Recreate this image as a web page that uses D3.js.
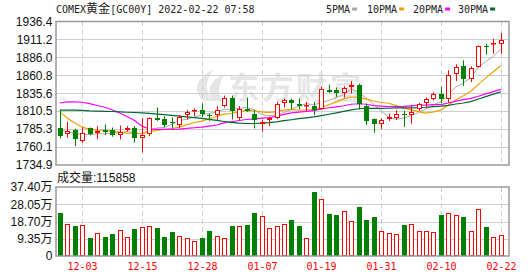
<!DOCTYPE html>
<html>
<head>
<meta charset="utf-8">
<script src="https://cdn.jsdelivr.net/npm/d3@7"></script>
<style>
body { margin: 0; background: #fff; }
svg { display: block; }
</style>
</head>
<body>
<script>
// trading days shown (MM-DD)
var dates = ["11-30","12-01","12-02","12-03","12-06","12-07","12-08","12-09","12-10","12-13",
  "12-14","12-15","12-16","12-17","12-20","12-21","12-22","12-23","12-27","12-28",
  "12-29","12-30","12-31","01-03","01-04","01-05","01-06","01-07","01-10","01-11",
  "01-12","01-13","01-14","01-17","01-18","01-19","01-20","01-21","01-24","01-25",
  "01-26","01-27","01-28","01-31","02-01","02-02","02-03","02-04","02-07","02-08",
  "02-09","02-10","02-11","02-14","02-15","02-16","02-17","02-18","02-21","02-22"];

var open = [1786.2,1777.8,1783.9,1769.0,1786.2,1780.1,1783.4,1784.3,1776.9,1783.9,
  1787.1,1772.2,1777.8,1801.1,1798.8,1795.5,1790.4,1804.9,1810.9,1811.9,
  1805.8,1804.9,1817.5,1829.6,1801.1,1814.2,1807.2,1791.8,1797.9,1801.1,
  1822.6,1825.9,1821.2,1817.5,1817.5,1814.2,1839.9,1840.8,1836.6,1844.5,
  1847.8,1817.5,1799.3,1792.3,1799.7,1801.1,1807.2,1804.9,1814.2,1822.6,
  1827.3,1834.3,1828.2,1863.2,1873.4,1855.2,1872.5,1901.9,1904.2,1905.2];
var high = [1811.9,1795.5,1785.7,1787.6,1787.6,1789.5,1791.8,1787.6,1790.4,1789.5,
  1789.5,1800.2,1801.6,1815.6,1803.5,1801.6,1804.9,1811.9,1814.2,1821.2,
  1807.2,1817.5,1832.4,1832.4,1817.5,1829.6,1811.9,1797.9,1802.5,1823.5,
  1828.2,1828.2,1828.2,1823.5,1823.5,1844.5,1847.8,1843.6,1845.5,1852.9,
  1849.2,1821.2,1800.2,1800.2,1807.2,1811.9,1810.9,1818.9,1822.1,1829.6,
  1836.6,1844.5,1867.8,1876.2,1881.8,1873.4,1902.8,1905.2,1912.1,1920.1];
var low = [1772.2,1773.1,1761.5,1766.2,1776.4,1771.3,1776.9,1774.6,1770.8,1782.0,
  1766.2,1752.6,1775.5,1796.9,1787.6,1786.2,1786.2,1798.8,1803.5,1802.5,
  1796.9,1797.9,1815.6,1798.8,1797.9,1809.5,1786.2,1781.6,1789.5,1799.3,
  1815.6,1812.8,1812.8,1810.9,1804.9,1812.8,1836.1,1830.5,1829.6,1835.2,
  1812.8,1790.9,1780.2,1785.3,1796.9,1797.9,1788.5,1793.2,1810.9,1815.6,
  1825.9,1822.1,1822.1,1852.9,1845.9,1851.5,1871.6,1889.8,1891.2,1891.2];
var close = [1776.0,1782.5,1770.8,1779.2,1778.8,1783.0,1781.6,1776.4,1781.6,1787.1,
  1772.2,1776.9,1800.2,1798.3,1790.9,1794.6,1802.5,1810.0,1812.8,1806.3,
  1804.9,1812.8,1829.6,1811.0,1814.2,1811.0,1797.9,1795.5,1801.1,1821.2,
  1825.9,1822.1,1817.5,1818.9,1812.8,1841.3,1838.0,1836.1,1843.1,1847.8,
  1820.3,1796.9,1792.3,1797.9,1801.6,1807.2,1804.9,1809.5,1820.3,1827.3,
  1834.3,1827.3,1860.8,1872.5,1856.2,1871.6,1901.4,1900.5,1906.1,1910.7];

// volume in 万 (10k contracts)
var volume = [23.3,17.3,16.3,16.8,9.8,12.3,10.3,11.9,13.9,10.1,
  14.6,15.5,16.3,15.2,10.3,13.0,10.7,9.6,8.1,9.8,
  13.6,10.7,9.6,16.3,16.3,17.0,23.3,21.7,15.0,16.1,
  17.2,19.3,16.3,9.6,34.7,30.7,22.6,22.2,24.2,18.8,
  26.6,19.5,21.1,13.4,12.3,11.7,16.8,17.2,13.4,13.4,
  12.8,22.2,23.1,22.2,21.1,13.4,25.3,15.5,10.1,11.5858];

// moving averages as drawn
var ma5 = [1784.0,1782.0,1779.0,1778.0,1777.5,1778.9,1778.7,1779.8,1780.3,1781.9,
  1779.8,1778.8,1783.6,1786.9,1787.7,1792.2,1797.3,1799.3,1802.2,1805.2,
  1807.3,1809.4,1813.3,1812.9,1814.5,1815.7,1812.7,1805.9,1803.9,1805.3,
  1808.3,1813.2,1817.6,1821.1,1819.4,1822.5,1825.7,1829.4,1834.3,1841.3,
  1837.1,1828.8,1820.1,1811.0,1801.8,1799.2,1800.8,1804.2,1808.7,1813.8,
  1819.3,1823.7,1834.0,1844.4,1850.2,1857.7,1872.5,1880.4,1887.2,1898.1];
var ma10 = [1809.5,1801.0,1794.0,1788.0,1785.0,1784.0,1783.5,1782.0,1781.0,1779.7,
  1779.4,1778.8,1781.7,1783.6,1784.8,1786.0,1788.1,1791.5,1794.6,1796.5,
  1799.8,1803.4,1806.3,1807.6,1809.9,1811.5,1811.1,1809.6,1808.4,1809.9,
  1812.0,1813.0,1811.8,1812.5,1812.4,1815.4,1819.5,1823.5,1827.7,1830.4,
  1829.8,1827.3,1824.8,1822.7,1821.6,1818.2,1814.8,1812.2,1809.9,1807.8,
  1809.3,1812.3,1819.1,1826.6,1832.0,1838.5,1848.1,1857.2,1865.8,1874.2];
var ma20 = [1822.0,1823.5,1823.5,1823.0,1821.0,1818.5,1816.0,1812.5,1808.0,1803.0,
  1797.5,1789.5,1785.5,1784.8,1784.8,1784.8,1785.2,1786.2,1787.2,1788.1,
  1789.6,1791.1,1794.0,1795.6,1797.4,1798.8,1799.6,1800.6,1801.5,1803.2,
  1805.9,1808.2,1809.1,1810.1,1811.2,1813.5,1815.3,1816.6,1818.1,1820.2,
  1820.9,1820.2,1818.3,1817.6,1817.0,1816.8,1817.2,1817.9,1818.8,1819.1,
  1819.6,1819.8,1822.0,1824.7,1826.8,1828.4,1831.5,1834.7,1837.9,1841.0];
var ma30 = [1811.9,1811.9,1811.9,1811.5,1810.8,1810.5,1810.3,1810.0,1809.5,1809.0,
  1808.6,1808.2,1807.3,1806.4,1805.5,1804.6,1803.6,1802.6,1801.5,1800.3,
  1798.9,1797.5,1796.0,1794.7,1793.6,1793.2,1793.2,1793.6,1794.3,1795.4,
  1797.1,1798.4,1799.9,1801.2,1802.4,1804.3,1806.2,1808.2,1810.2,1812.3,
  1813.9,1814.6,1814.3,1814.3,1814.6,1815.0,1815.1,1815.1,1815.3,1816.0,
  1817.0,1817.5,1818.6,1820.6,1822.0,1824.0,1827.5,1831.0,1834.5,1837.5];

var maNames = ["5PMA", "10PMA", "20PMA", "30PMA"];
var priceTicks = [1734.9, 1760.1, 1785.3, 1810.5, 1835.6, 1860.8, 1886.0, 1911.2, 1936.4];
var volTicks = [0, 9.35, 18.70, 28.05, 37.40];
var xLabels = ["12-03", "12-15", "12-28", "01-07", "01-19", "01-31", "02-10", "02-22"];
var titleParts = ["COMEX", "黄金", "[GC00Y] 2022-02-22 07:58"];
var lastVolume = "115858";

var W = 530, H = 276;
var left = 56, right = 509;
var RED = "#ff0000", GREEN = "#008000";
var maColors = ["#a8a8a8", "#f0a000", "#ff00ff", "#006633"];

var svg = d3.select("body").append("svg").attr("width", W).attr("height", H);

var x = d3.scaleBand().domain(dates).range([left, 504.5]).paddingInner(1/3).paddingOuter(1/6);
var bw = x.bandwidth();
function cx(d) { return Math.round(x(d) + bw / 2) + 0.5; }

var y = d3.scaleLinear().domain([priceTicks[0], priceTicks[priceTicks.length - 1]]).range([165, 21.5]);
var yv = d3.scaleLinear().domain([0, volTicks[volTicks.length - 1]]).range([256, 187]);
function crisp(v) { return Math.round(v) + 0.5; }

// watermark
var wm = svg.append("g").attr("fill", "#e6e6e6");
wm.append("path").attr("d", "M203,101 C192,90 196,78 214,69 C205,80 205,91 212,101 Z");
wm.append("path").attr("d", "M212,101 C206,90 210,80 225,74 C218,83 218,93 222,101 Z");
wm.append("text").attr("x", 228).attr("y", 99)
  .style("font-family", "'Noto Sans CJK SC'").style("font-size", "31px").style("font-weight", "bold")
  .style("letter-spacing", "3px").text("东方财富");

// grid: price panel
var gp = svg.append("g");
gp.selectAll("line.h").data(priceTicks.slice(1, -1)).enter().append("line")
  .attr("x1", left).attr("x2", right)
  .attr("y1", function(d) { return crisp(y(d)); }).attr("y2", function(d) { return crisp(y(d)); })
  .attr("stroke", "#cfcfcf");
gp.selectAll("line.v").data(xLabels).enter().append("line")
  .attr("x1", function(d) { return cx(d); }).attr("x2", function(d) { return cx(d); })
  .attr("y1", y.range()[1]).attr("y2", y.range()[0])
  .attr("stroke", "#cfcfcf").attr("stroke-dasharray", "5,3");

// grid: volume panel
var gv = svg.append("g");
gv.selectAll("line.h").data(volTicks.slice(1, -1)).enter().append("line")
  .attr("x1", left).attr("x2", right)
  .attr("y1", function(d) { return crisp(yv(d)); }).attr("y2", function(d) { return crisp(yv(d)); })
  .attr("stroke", "#cfcfcf");
gv.selectAll("line.v").data(xLabels).enter().append("line")
  .attr("x1", function(d) { return cx(d); }).attr("x2", function(d) { return cx(d); })
  .attr("y1", yv.range()[1]).attr("y2", yv.range()[0])
  .attr("stroke", "#cfcfcf").attr("stroke-dasharray", "5,3");

// moving average lines
var mas = [ma5, ma10, ma20, ma30];
mas.forEach(function(series, k) {
  var line = d3.line()
    .x(function(v, i) { return x(dates[i]) + bw / 2; })
    .y(function(v) { return y(v); });
  svg.append("path").datum(series).attr("d", line)
    .attr("fill", "none").attr("stroke", maColors[k]).attr("stroke-width", k == 0 ? 1 : 1.2);
});

// candles
var candles = svg.append("g").selectAll("g").data(dates).enter().append("g");
candles.each(function(d, i) {
  var g = d3.select(this);
  var up = close[i] >= open[i];
  var c = cx(d);
  var top = Math.round(y(Math.max(open[i], close[i])));
  var bot = Math.round(y(Math.min(open[i], close[i])));
  if (bot - top < 1) bot = top + 1;
  if (up) {
    g.append("line").attr("x1", c).attr("x2", c).attr("y1", y(high[i])).attr("y2", top).attr("stroke", RED);
    g.append("line").attr("x1", c).attr("x2", c).attr("y1", bot).attr("y2", y(low[i])).attr("stroke", RED);
    g.append("rect").attr("x", c - 2).attr("y", top + 0.5).attr("width", 4).attr("height", Math.max(bot - top - 1, 0.5))
      .attr("fill", "#fff").attr("stroke", RED);
  } else {
    g.append("line").attr("x1", c).attr("x2", c).attr("y1", y(high[i])).attr("y2", y(low[i])).attr("stroke", GREEN);
    g.append("rect").attr("x", c - 2.5).attr("y", top).attr("width", 5).attr("height", bot - top)
      .attr("fill", GREEN);
  }
});

// volume bars
svg.append("g").selectAll("rect").data(dates).enter().append("rect")
  .each(function(d, i) {
    var up = close[i] >= open[i];
    var c = cx(d);
    var t = Math.round(yv(volume[i]));
    var b = yv(0);
    var r = d3.select(this);
    if (up) {
      r.attr("x", c - 2).attr("y", t + 0.5).attr("width", 4).attr("height", b - t - 1)
        .attr("fill", "#fff").attr("stroke", RED);
    } else {
      r.attr("x", c - 2.5).attr("y", t).attr("width", 5).attr("height", b - t).attr("fill", GREEN);
    }
  });

// panel borders
[[y.range()[1], y.range()[0]], [yv.range()[1], yv.range()[0]]].forEach(function(r) {
  svg.append("rect").attr("x", left).attr("y", r[0]).attr("width", right - left).attr("height", r[1] - r[0])
    .attr("fill", "none").attr("stroke", "#999").attr("stroke-width", 1.5);
});

// axis labels
var fmtP = d3.format(".1f"), fmtV = d3.format(".2f");
svg.append("g").selectAll("text").data(priceTicks).enter().append("text")
  .attr("x", 52.5).attr("y", function(d) { return y(d); }).attr("dy", "0.36em")
  .attr("text-anchor", "end").style("font-family", "'Liberation Sans', Arial, sans-serif")
  .style("font-size", "12px").attr("fill", "#111").text(function(d) { return fmtP(d); });
svg.append("g").selectAll("text").data(volTicks).enter().append("text")
  .attr("x", 52.5).attr("y", function(d) { return yv(d); }).attr("dy", "0.36em")
  .attr("text-anchor", "end").style("font-family", "'Liberation Sans', Arial, 'Noto Sans CJK SC', sans-serif")
  .style("font-size", "12px").attr("fill", "#111").text(function(d) { return d == 0 ? "0" : fmtV(d) + "万"; });
svg.append("g").selectAll("text").data(xLabels).enter().append("text")
  .attr("x", function(d) { return cx(d); }).attr("y", 270).attr("text-anchor", "middle")
  .style("font-family", "'DejaVu Sans Mono', monospace").style("font-size", "10px")
  .attr("fill", RED).text(function(d) { return d; });

// title
var tt = svg.append("text").attr("x", 56).attr("y", 13)
  .style("font-family", "'DejaVu Sans Mono', 'Noto Sans CJK SC', monospace").style("font-size", "10px")
  .attr("fill", "#222");
titleParts.forEach(function(p, k) {
  tt.append("tspan").style("font-size", k == 1 ? "12px" : "10px")
    .style("font-family", k == 1 ? "'Noto Sans CJK SC'" : null).text(p);
});

// legend
var legX = [326, 367, 413, 458];
maNames.forEach(function(n, k) {
  var t = svg.append("text").attr("x", legX[k]).attr("y", 13)
    .style("font-family", "'DejaVu Sans Mono', monospace").style("font-size", "10px")
    .attr("fill", "#222").text(n);
  var w = t.node().getComputedTextLength();
  svg.append("rect").attr("x", legX[k] + w + 2).attr("y", 7.5).attr("width", 5).attr("height", 3)
    .attr("fill", maColors[k]);
});

// volume caption
svg.append("text").attr("x", 57).attr("y", 182)
  .style("font-family", "'Liberation Sans', 'Noto Sans CJK SC', sans-serif").style("font-size", "12px")
  .attr("fill", "#111").text("成交量:" + lastVolume);
</script>
</body>
</html>
